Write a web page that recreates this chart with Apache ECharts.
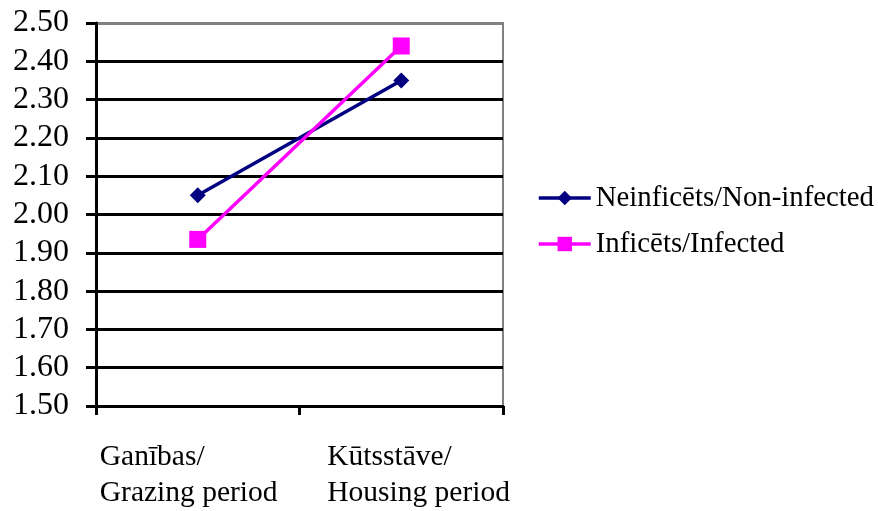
<!DOCTYPE html>
<html><head><meta charset="utf-8">
<script src="https://cdn.jsdelivr.net/npm/echarts@6/dist/echarts.min.js"></script>
<style>html,body{margin:0;padding:0;background:#fff}#c{width:878px;height:511px}</style>
</head><body><div id="c"></div>
<script>
var categories = ['Ganības/\nGrazing period', 'Kūtsstāve/\nHousing period'];
var seriesNames = ['Neinficēts/Non-infected', 'Inficēts/Infected'];
var nonInfected = [2.05, 2.35];
var infected = [1.935, 2.44];
var yTicks = { min: 1.5, max: 2.5, interval: 0.1 };

var FONT = '"Liberation Serif", "Times New Roman", serif';
var chart = echarts.init(document.getElementById('c'));
var gridColors = [];
for (var i = 0; i < 10; i++) gridColors.push('#000');
gridColors.push('#808080');
var richKeys = ['g', 'h'];
chart.setOption({
  animation: false,
  backgroundColor: '#fff',
  grid: { left: 96, top: 23, right: 375, bottom: 100, show: true, borderColor: '#808080', borderWidth: 2 },
  legend: {
    orient: 'vertical', left: 537, top: 183, padding: 0,
    itemWidth: 52, itemHeight: 18, itemGap: 16,
    lineStyle: { width: 3.5 },
    textStyle: { fontFamily: FONT, fontSize: 28.8, color: '#000', lineHeight: 30 },
    data: seriesNames
  },
  xAxis: {
    type: 'category', data: categories,
    axisLine: { lineStyle: { color: '#000', width: 3 } },
    axisTick: { show: true, length: 9, lineStyle: { color: '#000', width: 3 } },
    axisLabel: {
      interval: 0, margin: 33, color: '#000',
      fontFamily: FONT, fontSize: 29.5, lineHeight: 36,
      formatter: function (v, idx) {
        var k = richKeys[idx];
        return v.split('\n').map(function (s) { return '{' + k + '|' + s + '}'; }).join('\n');
      },
      rich: {
        g: { width: 196, align: 'left', fontFamily: FONT, fontSize: 29.5, lineHeight: 36, color: '#000' },
        h: { width: 148, align: 'left', fontFamily: FONT, fontSize: 29.5, lineHeight: 36, color: '#000' }
      }
    }
  },
  yAxis: {
    type: 'value', min: yTicks.min, max: yTicks.max, interval: yTicks.interval,
    axisLine: { show: true, lineStyle: { color: '#000', width: 3 } },
    axisTick: { show: true, length: 10, lineStyle: { color: '#000', width: 3 } },
    axisLabel: { margin: 27, color: '#000', fontFamily: FONT, fontSize: 32, formatter: function (v) { return v.toFixed(2); } },
    splitLine: { show: true, lineStyle: { color: gridColors, width: 3 } }
  },
  series: [
    { name: seriesNames[0], type: 'line', data: nonInfected, symbol: 'diamond', symbolSize: 16,
      lineStyle: { color: '#000080', width: 3.5 }, itemStyle: { color: '#000080' } },
    { name: seriesNames[1], type: 'line', data: infected, symbol: 'rect', symbolSize: 17,
      lineStyle: { color: '#FF00FF', width: 3.5 }, itemStyle: { color: '#FF00FF' } }
  ]
});
</script></body></html>
